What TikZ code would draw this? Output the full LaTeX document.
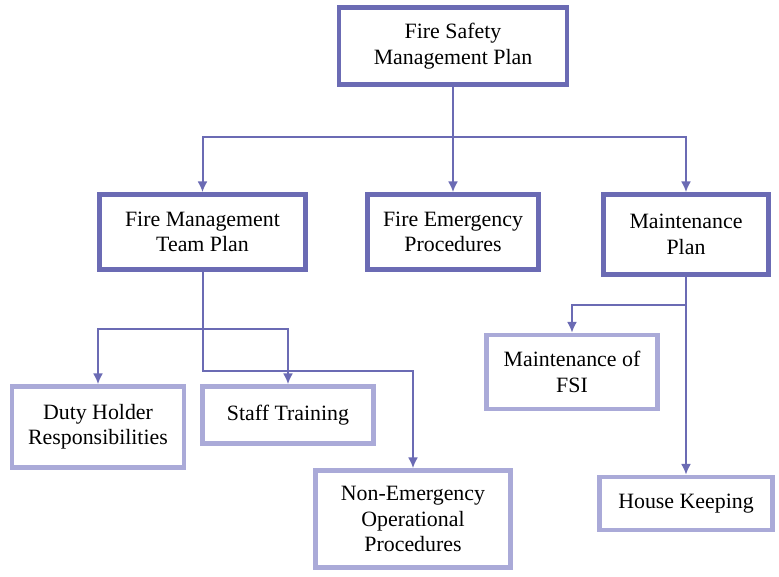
\documentclass[tikz,border=0pt]{standalone}
\usepackage{fontspec}
\setmainfont{Liberation Serif}
\usetikzlibrary{positioning,arrows.meta}

\definecolor{planedge}{RGB}{107,107,180}
\definecolor{subedge}{RGB}{170,170,216}

\begin{document}
\begin{tikzpicture}[
x=0.75pt,y=-0.75pt,
planbox/.style={
  draw=planedge,
  line width=3.5pt,
  inner sep=0pt,
  align=center,
  font=\fontsize{16.4}{19}\selectfont
},
taskbox/.style={
  planbox,
  draw=subedge
},
conn/.style={
  draw=planedge,
  line width=1.5pt,
  -{Latex[length=8pt,width=7.5pt]}
}
]
\useasboundingbox (0,0) rectangle (779,577);

% top level
\node[planbox,minimum width=171pt,minimum height=57.75pt] at (453,46)
  (fsmp) {Fire Safety\\Management Plan};

% second level
\node[planbox,minimum width=154.5pt,minimum height=56.25pt] at (202.5,232)
  (fmtp) {Fire Management\\Team Plan};
\node[planbox,minimum width=128.25pt,minimum height=56.25pt] at (453,232)
  (fep) {Fire Emergency\\Procedures};
\node[planbox,minimum width=123.75pt,minimum height=60pt] at (686,234.5)
  (mp) {Maintenance\\Plan};

% third level
\node[taskbox,minimum width=129pt,minimum height=60.75pt] at (98,427)
  (duty) {Duty Holder\\Responsibilities};
\node[taskbox,minimum width=128.25pt,minimum height=42.75pt] at (288,415)
  (staff) {Staff Training};
\node[taskbox,minimum width=146.25pt,minimum height=72.75pt] at (413,519)
  (nonemerg) {Non-Emergency\\Operational\\Procedures};
\node[taskbox,minimum width=128.25pt,minimum height=55.5pt] at (572,372)
  (mfsi) {Maintenance of\\FSI};
\node[taskbox,minimum width=129.75pt,minimum height=39.75pt] at (686,503.5)
  (house) {House Keeping};

% junctions
\coordinate (bus1) at (453,137);
\coordinate (bus2) at (202.5,329);
\coordinate (bend2) at (202.5,371);
\coordinate (bus3) at (686,305);

\draw[conn] (fsmp) -- (fep);
\draw[conn] (bus1) -| (fmtp);
\draw[conn] (bus1) -| (mp);

\draw[conn] (bus2) -| (duty);
\draw[conn] (bus2) -| (staff);
\draw[conn] (fmtp) -- (bend2) -| (nonemerg);

\draw[conn] (mp) -- (house);
\draw[conn] (bus3) -| (mfsi);
\end{tikzpicture}
\end{document}
